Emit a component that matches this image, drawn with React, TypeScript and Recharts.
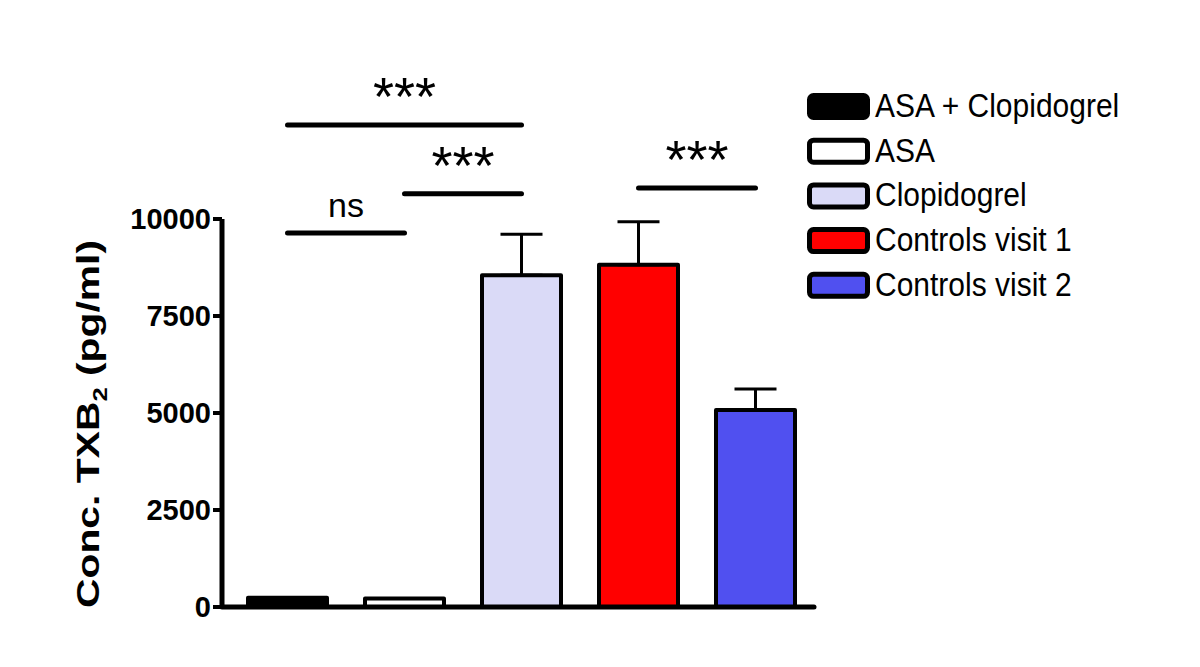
import { BarChart, Bar, XAxis, YAxis, Cell, ErrorBar, Legend, ReferenceLine } from "recharts";

const groups = ["ASA + Clopidogrel", "ASA", "Clopidogrel", "Controls visit 1", "Controls visit 2"];
const means = [240, 220, 8550, 8820, 5080];
const sem = [0, 0, 1060, 1110, 540];
const colors = ["#000000", "#ffffff", "#dadaf7", "#ff0000", "#5050f0"];
const yTicks = [0, 2500, 5000, 7500, 10000];

// significance brackets: from group, to group, bracket level (pg/ml), text
const sigFrom = ["ASA + Clopidogrel", "ASA + Clopidogrel", "ASA", "Controls visit 1"];
const sigTo = ["Clopidogrel", "ASA", "Clopidogrel", "Controls visit 2"];
const sigLevel = [12420, 9640, 10650, 10800];
const sigText = ["***", "ns", "***", "***"];

const FONT = "'Liberation Sans', Arial, sans-serif";

const data = groups.map((g, i) => ({ group: g, value: means[i], err: [0, sem[i]] }));

const SigLabel = ({ viewBox, text }: any) => {
  if (!viewBox) return null;
  const cx = viewBox.x + viewBox.width / 2;
  const stars = text === "***";
  return (
    <text
      x={cx}
      y={viewBox.y - (stars ? 10 : 16)}
      textAnchor="middle"
      fontFamily={FONT}
      fontSize={stars ? 54 : 34}
      fill="#000"
    >
      {text}
    </text>
  );
};

const YLabel = ({ viewBox }: any) => {
  if (!viewBox) return null;
  const x = 91;
  const y = viewBox.y + viewBox.height / 2 + 11;
  return (
    <text
      x={x}
      y={y}
      transform={`rotate(-90 ${x} ${y})`}
      textAnchor="middle"
      fontFamily={FONT}
      fontWeight="bold"
      fontSize={32}
      textLength={368}
      lengthAdjust="spacingAndGlyphs"
      fill="#000"
    >
      Conc. TXB<tspan fontSize={20} dy={8}>2</tspan>
      <tspan dy={-8}> (pg/ml)</tspan>
    </text>
  );
};

const LegendBox = () => (
  <svg width={340} height={240} style={{ display: "block" }}>
    {groups.map((g, i) => {
      const cy = 26.5 + 44.7 * i;
      return (
        <g key={g}>
          <rect x={5.5} y={cy - 11} width={58} height={22} rx={4} fill={colors[i]} stroke="#000" strokeWidth={5} />
          <text
            x={71}
            y={cy + 10.5}
            fontFamily={FONT}
            fontSize={30}
            fill="#000"
            transform={`translate(0 ${cy + 10.5}) scale(1 1.12) translate(0 ${-(cy + 10.5)})`}
          >
            {g}
          </text>
        </g>
      );
    })}
  </svg>
);

export default function App() {
  return (
    <div style={{ width: 1192, height: 659, background: "#fff" }}>
      <BarChart
        width={1192}
        height={659}
        data={data}
        margin={{ top: 211, right: 386, bottom: 50, left: 0 }}
        barSize={79}
        style={{ fontFamily: FONT }}
      >
        <XAxis
          dataKey="group"
          tick={false}
          tickLine={false}
          padding={{ left: 7, right: 0 }}
          axisLine={{ stroke: "#000", strokeWidth: 5, strokeLinecap: "round" }}
          height={10}
        />
        <YAxis
          width={214}
          domain={[0, 10000]}
          ticks={yTicks}
          interval={0}
          tickSize={9}
          tickMargin={2}
          axisLine={{ stroke: "#000", strokeWidth: 5 }}
          tickLine={{ stroke: "#000", strokeWidth: 4 }}
          tick={{ fill: "#000", fontSize: 29, fontWeight: "bold", fontFamily: FONT }}
          label={<YLabel />}
        />
        <Legend
          layout="horizontal"
          align="center"
          verticalAlign="middle"
          wrapperStyle={{ left: 796, top: 72, width: 340, height: 240 }}
          content={() => <LegendBox />}
        />
        <Bar dataKey="value" stroke="#000" strokeWidth={4} strokeLinejoin="round" isAnimationActive={false}>
          {data.map((d, i) => (
            <Cell key={d.group} fill={colors[i]} />
          ))}
          <ErrorBar dataKey="err" width={21} stroke="#000" strokeWidth={3} direction="y" />
        </Bar>
        {sigText.map((t, i) => (
          <ReferenceLine
            key={i}
            segment={[
              { x: sigFrom[i], y: sigLevel[i] },
              { x: sigTo[i], y: sigLevel[i] },
            ]}
            ifOverflow="visible"
            stroke="#000"
            strokeWidth={5}
            strokeLinecap="round"
            label={<SigLabel text={t} />}
          />
        ))}
      </BarChart>
    </div>
  );
}
